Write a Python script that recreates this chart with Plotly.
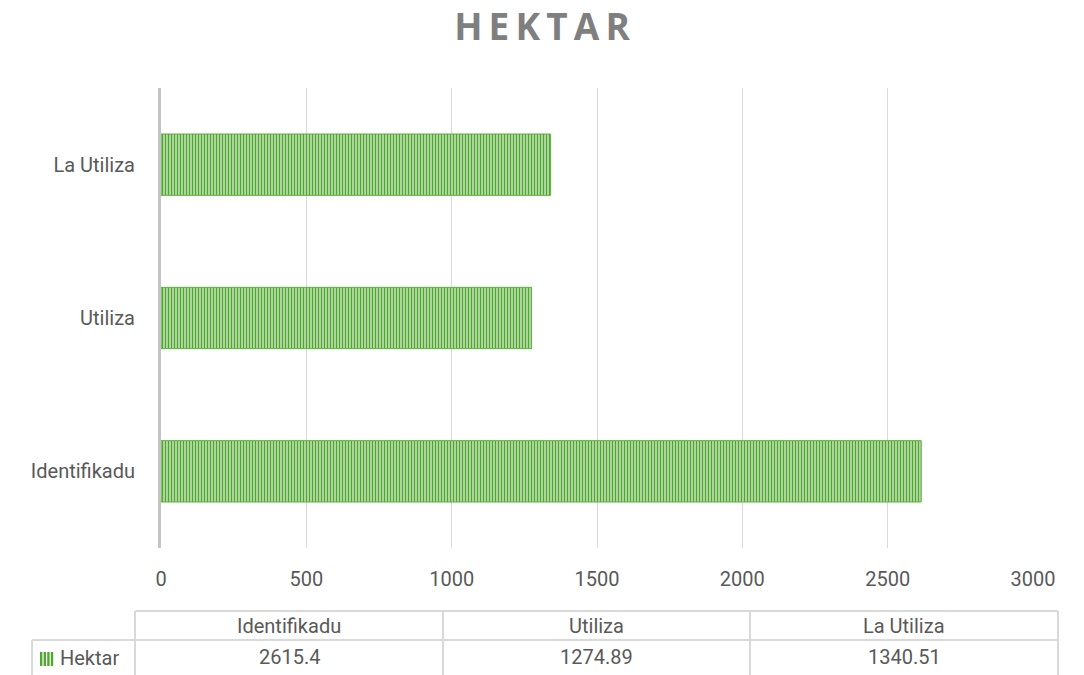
import plotly.graph_objects as go

categories = ["Identifikadu", "Utiliza", "La Utiliza"]
hektar = [2615.4, 1274.89, 1340.51]
series_name = "Hektar"
x_ticks = [0, 500, 1000, 1500, 2000, 2500, 3000]
title_text = "HEKTAR"

W, H = 1084, 675
GREEN = "#4EA72E"
TXT = "#595959"
FONT = "Roboto, Lato, sans-serif"
FS = 20

def px(x):
    return x / W

def py(y):
    return 1 - y / H

fig = go.Figure()
fig.add_trace(go.Bar(
    y=categories, x=hektar, orientation="h", name=series_name,
    marker=dict(color="#DDEFD5",
                line=dict(color="#5DB03E", width=1),
                pattern=dict(shape="|", fgcolor=GREEN, bgcolor="#F0F8EC",
                             size=3, solidity=0.62, fillmode="replace")),
    hoverinfo="x+y", showlegend=False,
))

shapes = []
ann = []

line = dict(color="#D9D9D9", width=2)
col_edges = [135, 443, 750, 1058]
y_top, y_mid, y_bot = 611, 640, 690
shapes.append(dict(type="line", xref="paper", yref="paper", x0=px(135), x1=px(1058), y0=py(y_top), y1=py(y_top), line=line))
shapes.append(dict(type="line", xref="paper", yref="paper", x0=px(32), x1=px(1058), y0=py(y_mid), y1=py(y_mid), line=line))
for xe in col_edges:
    shapes.append(dict(type="line", xref="paper", yref="paper", x0=px(xe), x1=px(xe), y0=py(y_top), y1=py(y_bot), line=line))
shapes.append(dict(type="line", xref="paper", yref="paper", x0=px(32), x1=px(32), y0=py(y_mid), y1=py(y_bot), line=line))

for i, cat in enumerate(categories):
    cx = (col_edges[i] + col_edges[i + 1]) / 2
    ann.append(dict(x=px(cx), y=py(626), xref="paper", yref="paper", text=cat, showarrow=False,
                    font=dict(family=FONT, size=FS, color=TXT), xanchor="center", yanchor="middle"))
    ann.append(dict(x=px(cx), y=py(657), xref="paper", yref="paper", text=f"{hektar[i]:g}", showarrow=False,
                    font=dict(family=FONT, size=FS, color=TXT), xanchor="center", yanchor="middle"))
ann.append(dict(x=px(58), y=py(658), xref="paper", yref="paper", text=series_name, showarrow=False,
                font=dict(family=FONT, size=FS, color=TXT), xanchor="left", yanchor="middle"))

for k in range(4):
    x0 = 40 + k * 3.6
    shapes.append(dict(type="rect", xref="paper", yref="paper", x0=px(x0), x1=px(x0 + 2.4),
                       y0=py(666), y1=py(652), fillcolor=GREEN, line=dict(width=0)))

fig.update_layout(
    width=W, height=H, autosize=False,
    margin=dict(l=0, r=0, t=0, b=0, autoexpand=False),
    paper_bgcolor="white", plot_bgcolor="white",
    title=dict(text="H\u2009E\u2009K\u2009T\u2009A\u2009R", x=0.5, xanchor="center", y=py(27), yanchor="middle",
               font=dict(family="Open Sans, sans-serif", size=37, color="#7F7F7F", weight="bold")),
    bargap=0.6,
    xaxis=dict(domain=[px(161), px(1033)], range=[0, 3000], tickvals=x_ticks, automargin=False,
               ticktext=[str(v) for v in x_ticks], showgrid=True, gridcolor="#D9D9D9", gridwidth=1,
               zeroline=False, showline=False, ticks="outside", ticklen=13, tickcolor="rgba(0,0,0,0)",
               tickfont=dict(family=FONT, size=FS, color=TXT), fixedrange=True),
    yaxis=dict(domain=[py(548), py(88)], showgrid=False, zeroline=False, automargin=False,
               showline=True, linecolor="#C4C4C4", linewidth=3,
               ticks="outside", ticklen=19, tickcolor="rgba(0,0,0,0)",
               tickfont=dict(family=FONT, size=FS, color=TXT), fixedrange=True),
    shapes=shapes, annotations=ann,
)

fig.write_html("out.html", config={"displayModeBar": False, "responsive": False},
               post_script="document.body.style.margin='0';document.body.style.overflow='hidden';")
